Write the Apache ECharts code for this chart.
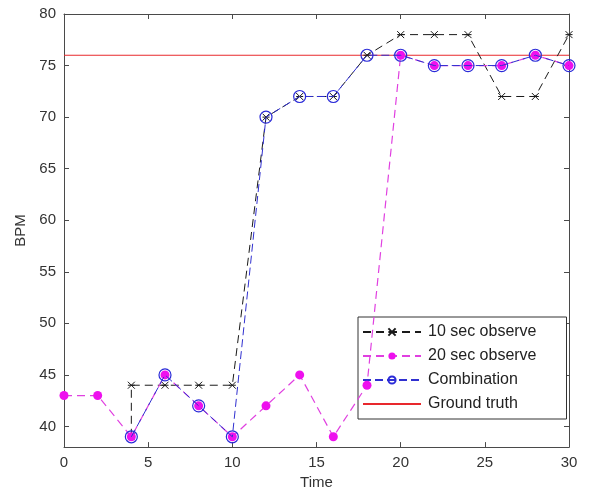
<!DOCTYPE html>
<html>
<head>
<meta charset="utf-8">
<script src="https://cdn.jsdelivr.net/npm/echarts@6/dist/echarts.min.js"></script>
<style>
  html, body { margin: 0; padding: 0; background: #ffffff; }
  #chart { width: 589px; height: 495px; }
</style>
</head>
<body>
<div id="chart"></div>
<script>
// Heart-rate estimates over time (BPM)
const obs10Time = [4, 4, 6, 8, 10, 12, 14, 16, 18, 20, 22, 24, 26, 28, 30];
const obs10Bpm  = [39, 44, 44, 44, 44, 70, 72, 72, 76, 78, 78, 78, 72, 72, 78];

const obs20Time = [0, 2, 4, 6, 8, 10, 12, 14, 16, 18, 20, 22, 24, 26, 28, 30];
const obs20Bpm  = [43, 43, 39, 45, 42, 39, 42, 45, 39, 44, 76, 75, 75, 75, 76, 75];

const combTime = [4, 6, 8, 10, 12, 14, 16, 18, 20, 22, 24, 26, 28, 30];
const combBpm  = [39, 45, 42, 39, 70, 72, 72, 76, 76, 75, 75, 75, 76, 75];

const truthTime = [0, 30];
const truthBpm  = [76, 76];

const xTicks = [0, 5, 10, 15, 20, 25, 30];
const yTicks = [40, 45, 50, 55, 60, 65, 70, 75, 80];

const seriesNames = ['10 sec observe', '20 sec observe', 'Combination', 'Ground truth'];

const pairs = (xs, ys) => xs.map((x, i) => [x, ys[i]]);

const axisColor = '#4a4a4a';
const fontFamily = '"Liberation Sans", Arial, sans-serif';
const labelStyle = { color: '#333', fontSize: 15, fontFamily: fontFamily };

const asterisk = 'path://M0,0L10,10M10,0L0,10M0,5L10,5';

const chart = echarts.init(document.getElementById('chart'), null, { renderer: 'canvas' });

const baseX = {
  type: 'value', min: 0, max: 30, interval: 5,
  axisLine: { show: true, onZero: false, lineStyle: { color: axisColor, width: 1 } },
  axisTick: { show: true, inside: true, length: 5, lineStyle: { color: axisColor } },
  splitLine: { show: false }
};
const baseY = {
  type: 'value', min: 38, max: 80,
  axisLine: { show: true, onZero: false, lineStyle: { color: axisColor, width: 1 } },
  axisTick: { show: true, inside: true, length: 5, customValues: yTicks, lineStyle: { color: axisColor } },
  splitLine: { show: false }
};

chart.setOption({
  backgroundColor: '#ffffff',
  animation: false,
  grid: { left: 64, right: 20, top: 14, bottom: 47, containLabel: false },
  xAxis: [
    Object.assign({}, baseX, {
      position: 'bottom',
      name: 'Time', nameLocation: 'middle', nameGap: 26,
      nameTextStyle: labelStyle,
      axisLabel: Object.assign({ margin: 8, customValues: xTicks }, labelStyle),
      axisTick: Object.assign({}, baseX.axisTick, { customValues: xTicks })
    }),
    Object.assign({}, baseX, {
      position: 'top',
      axisLabel: { show: false },
      axisTick: Object.assign({}, baseX.axisTick, { customValues: xTicks })
    })
  ],
  yAxis: [
    Object.assign({}, baseY, {
      position: 'left',
      name: 'BPM', nameLocation: 'middle', nameGap: 36, nameRotate: 90,
      nameTextStyle: labelStyle,
      axisLabel: Object.assign({ margin: 8, customValues: yTicks }, labelStyle)
    }),
    Object.assign({}, baseY, {
      position: 'right',
      axisLabel: { show: false }
    })
  ],
  legend: {
    data: [
      { name: seriesNames[0] },
      { name: seriesNames[1] },
      { name: seriesNames[2] },
      { name: seriesNames[3], itemStyle: { opacity: 0 } }
    ],
    orient: 'vertical',
    left: 358, top: 317,
    padding: [7, 30, 7, 4],
    itemWidth: 58, itemHeight: 9, itemGap: 8,
    backgroundColor: '#ffffff',
    borderColor: '#333',
    borderWidth: 1,
    borderRadius: 0,
    textStyle: { color: '#222', fontSize: 16, fontFamily: fontFamily, padding: [0, 0, 0, 2] },
    selectedMode: false
  },
  series: [
    {
      name: seriesNames[3],
      type: 'line',
      data: pairs(truthTime, truthBpm),
      showSymbol: false, symbol: 'none',
      lineStyle: { color: '#e8282d', width: 1.2, type: 'solid' },
      itemStyle: { color: '#e8282d' },
      z: 2
    },
    {
      name: seriesNames[0],
      type: 'line',
      data: pairs(obs10Time, obs10Bpm),
      symbol: asterisk, symbolSize: 7,
      lineStyle: { color: '#1a1a1a', width: 1, type: [8, 5] },
      itemStyle: { color: 'rgba(0,0,0,0)', borderColor: '#1a1a1a', borderWidth: 1 },
      z: 3
    },
    {
      name: seriesNames[1],
      type: 'line',
      data: pairs(obs20Time, obs20Bpm),
      symbol: 'circle', symbolSize: 9,
      lineStyle: { color: '#e040e0', width: 1.2, type: [8, 5] },
      itemStyle: { color: '#ee10ee', borderColor: '#ee10ee', borderWidth: 0 },
      z: 4
    },
    {
      name: seriesNames[2],
      type: 'line',
      data: pairs(combTime, combBpm),
      symbol: 'circle', symbolSize: 12,
      lineStyle: { color: '#3030d0', width: 1, type: [8, 4] },
      itemStyle: { color: 'rgba(0,0,0,0)', borderColor: '#2a2ad8', borderWidth: 1.2 },
      z: 5
    }
  ]
});
</script>
</body>
</html>
